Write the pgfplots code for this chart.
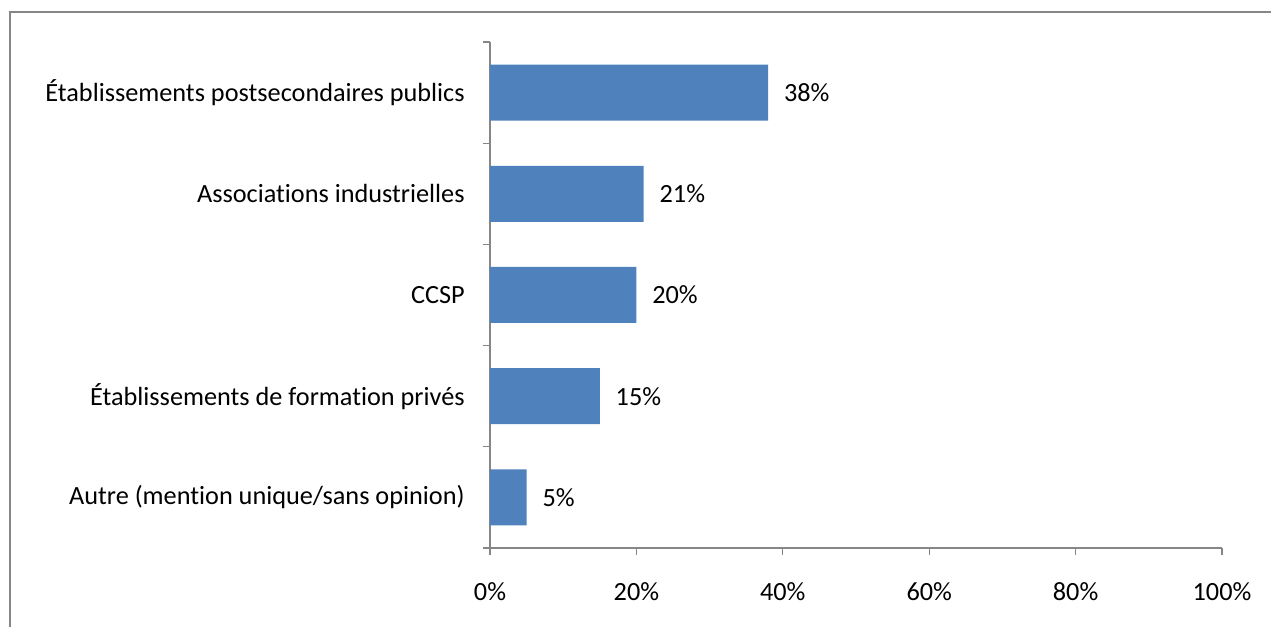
\documentclass[border=0pt]{standalone}
\usepackage{pgfplots}
\pgfplotsset{compat=1.18}
\usepackage{fontspec}
\setmainfont{Carlito}[Ligatures={NoCommon}]
\definecolor{barblue}{HTML}{4F81BD}
\definecolor{axgrey}{HTML}{868686}
\begin{document}
\begin{tikzpicture}[font=\fontsize{19.7}{23}\selectfont]
\path[use as bounding box] (0,0) rectangle (953.25pt,470.25pt);
\draw[axgrey, line width=1pt] (7.5pt,0) -- (7.5pt,461.25pt) -- (953.25pt,461.25pt);
\begin{axis}[
  at={(367.5pt,59.25pt)}, anchor=south west,
  xbar, scale only axis, width=549pt, height=379.5pt,
  xmin=0, xmax=100, ymin=0.5, ymax=5.5,
  axis lines*=left,
  axis line style={axgrey, line width=1pt},
  tick align=outside,
  major tick length=5.25pt, minor tick length=5.25pt,
  /pgf/number format/assume math mode=true,
  xtick={0,20,40,60,80,100},
  xticklabels={0\%,20\%,40\%,60\%,80\%,100\%},
  ytick={1,2,3,4,5},
  yticklabels={Autre (mention unique/sans opinion),Établissements de formation privés,CCSP,Associations industrielles,Établissements postsecondaires publics},
  minor ytick={0.5,1.5,2.5,3.5,4.5,5.5},
  major y tick style={draw=none},
  minor y tick style={axgrey, line width=1pt},
  major x tick style={axgrey, line width=1pt},
  yticklabel style={xshift=-10.2pt, text=black},
  xticklabel style={yshift=-17.5pt, text=black},
  nodes near coords={\pgfmathprintnumber{\pgfplotspointmeta}\%},
  nodes near coords style={anchor=west, xshift=8.4pt, text=black},
  point meta=x,
]
\addplot[fill=barblue, draw=none, bar width=42pt] coordinates {(5,1) (15,2) (20,3) (21,4) (38,5)};
\end{axis}
\end{tikzpicture}
\end{document}
